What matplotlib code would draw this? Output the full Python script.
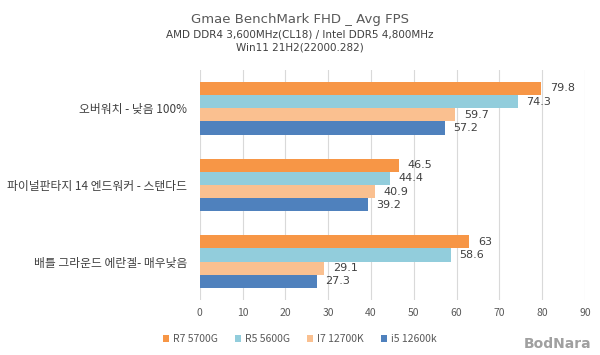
import matplotlib
matplotlib.use("Agg")
import matplotlib.pyplot as plt
import numpy as np

plt.rcParams['font.family'] = ['Noto Sans CJK KR', 'DejaVu Sans']

categories = ["오버워치 - 낮음 100%", "파이널판타지 14 엔드워커 - 스탠다드", "배틀 그라운드 에란겔- 매우낮음"]
series_names = ["R7 5700G", "R5 5600G", "I7 12700K", "i5 12600k"]
series_values = [
    [79.8, 46.5, 63],
    [74.3, 44.4, 58.6],
    [59.7, 40.9, 29.1],
    [57.2, 39.2, 27.3],
]
value_labels = [
    ["79.8", "46.5", "63"],
    ["74.3", "44.4", "58.6"],
    ["59.7", "40.9", "29.1"],
    ["57.2", "39.2", "27.3"],
]
colors = ["#F79646", "#92CDDC", "#FAC090", "#4F81BD"]
xticks = [0, 10, 20, 30, 40, 50, 60, 70, 80, 90]

txt = "#595959"
fig = plt.figure(figsize=(6, 3.55), dpi=100)
ax = fig.add_axes([0.333, 0.155, 0.642, 0.648])

n = len(series_names)
bh = 0.172
ypos = np.arange(len(categories))[::-1].astype(float)
for i, (name, vals) in enumerate(zip(series_names, series_values)):
    y = ypos + (1.5 - i) * bh
    bars = ax.barh(y, vals, height=bh, color=colors[i], label=name, zorder=3)
    for b, lab in zip(bars, value_labels[i]):
        ax.text(b.get_width() + 2, b.get_y() + b.get_height() / 2, lab,
                va='center', ha='left', fontsize=8, color="#404040", family=['DejaVu Sans'])

ax.set_xlim(0, 90)
ax.set_ylim(-0.5, 2.5)
ax.set_xticks(xticks)
ax.set_xticklabels([str(t) for t in xticks], fontsize=7.5, color=txt)
ax.set_yticks(ypos)
ax.set_yticklabels(categories, fontsize=8.5, color="#404040")
ax.tick_params(axis='both', length=0)
ax.tick_params(axis='x', pad=6)
ax.tick_params(axis='y', pad=9)
ax.grid(axis='x', color="#D9D9D9", linewidth=0.8, zorder=0)
for s in ax.spines.values():
    s.set_visible(False)

fig.text(0.5, 0.935, "Gmae BenchMark FHD _ Avg FPS", ha='center', fontsize=9.5, color=txt, family=['DejaVu Sans'])
fig.text(0.5, 0.895, "AMD DDR4 3,600MHz(CL18) / Intel DDR5 4,800MHz", ha='center', fontsize=7.5, color="#404040", family=['DejaVu Sans'])
fig.text(0.5, 0.858, "Win11 21H2(22000.282)", ha='center', fontsize=7.5, color="#404040", family=['DejaVu Sans'])

handles, labels = ax.get_legend_handles_labels()
fig.legend(handles, labels, loc='center', bbox_to_anchor=(0.5, 0.045), ncol=4, frameon=False,
           fontsize=7.5, handlelength=0.6, handleheight=0.6, columnspacing=1.6, handletextpad=0.4,
           labelcolor=txt)

fig.text(0.985, 0.01, "BodNara", ha='right', va='bottom', fontsize=10, fontweight='bold', color="#A0A0A0", family=['DejaVu Sans'])

fig.savefig("out.png", dpi=100, facecolor='white')
